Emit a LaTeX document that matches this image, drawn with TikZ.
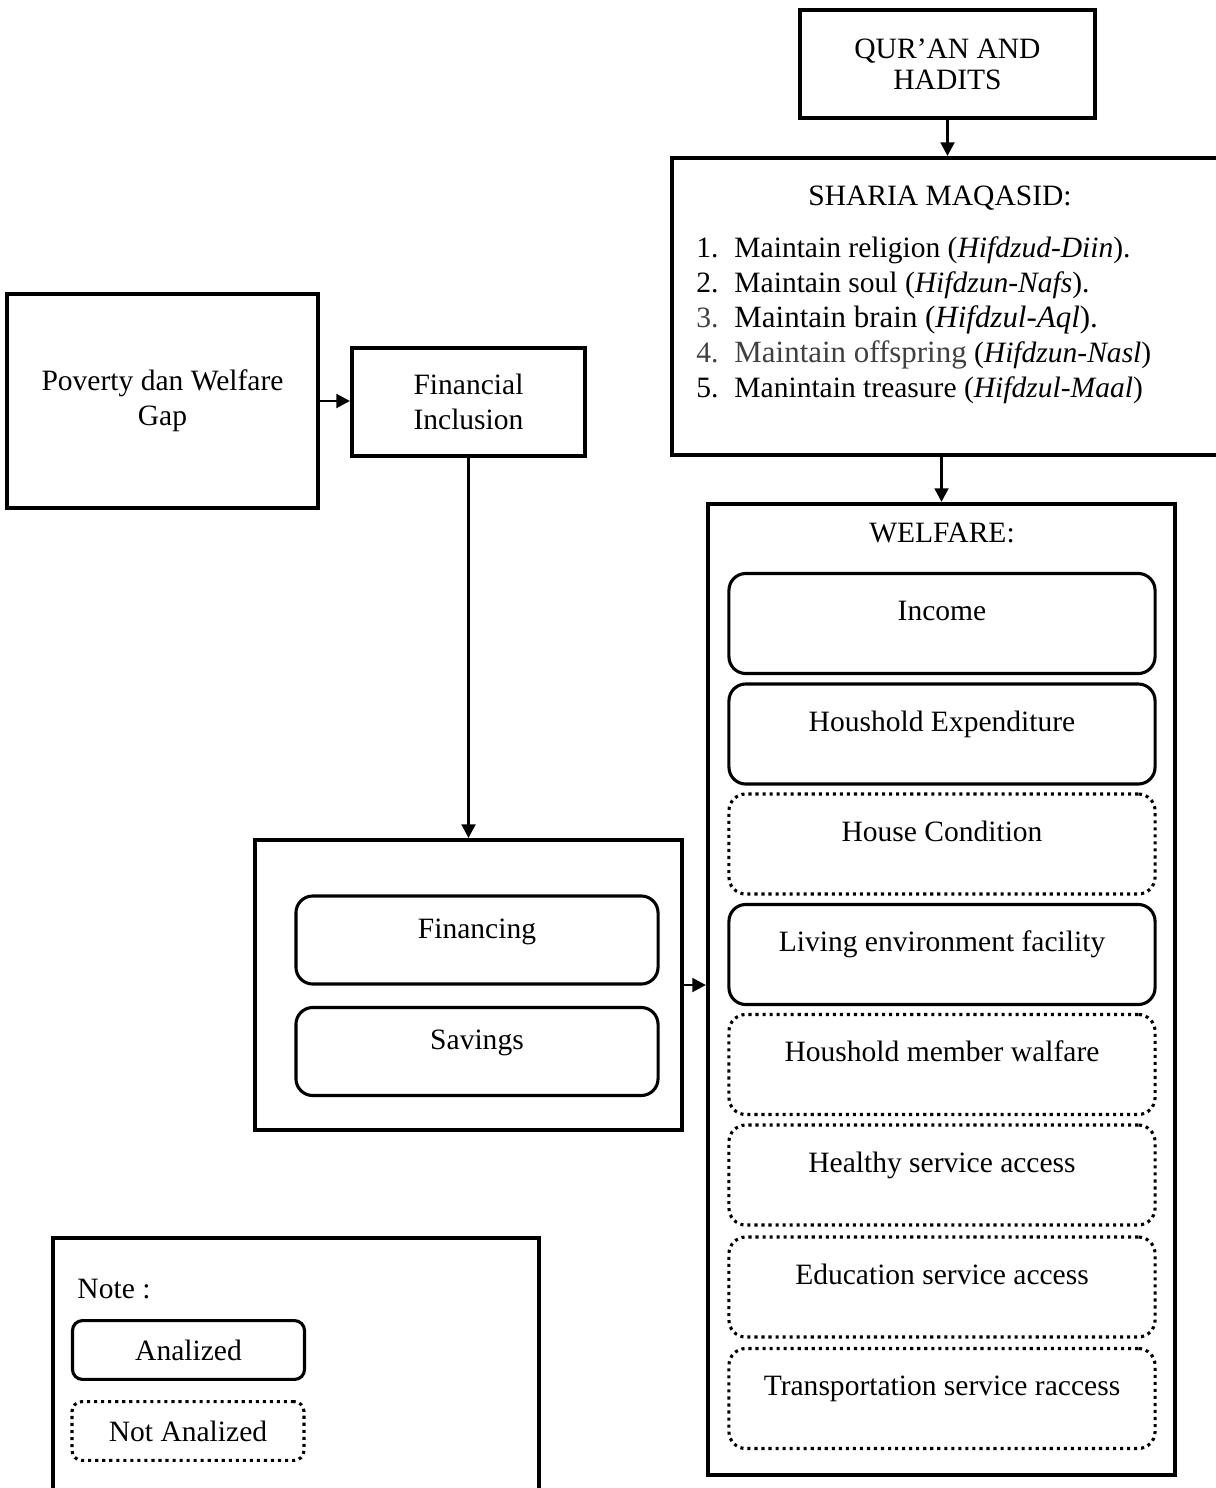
\documentclass[tikz,border=0pt]{standalone}
\usepackage{fontspec}
\setmainfont{Liberation Serif}
\usetikzlibrary{positioning, arrows.meta, calc}

\begin{document}
\begin{tikzpicture}[
    x=0.025cm, y=-0.025cm,
    line width=2.1pt,
    font=\fontsize{21}{25}\selectfont,
    >={Triangle[length=3.4mm, width=3.4mm]},
    block/.style={draw, rectangle, line width=2.8pt, align=center, inner sep=0pt},
    item/.style={draw, rectangle, rounded corners=0.42cm, line width=2.2pt, inner sep=0pt, minimum width=10.65cm, text height=1.175cm, text depth=1.325cm},
    itemdot/.style={item, dash pattern=on 2.2pt off 2.8pt},
    source/.style={item, minimum width=9.05cm, text height=1.05cm, text depth=1.15cm},
    keybox/.style={draw, rectangle, rounded corners=0.25cm, line width=2.2pt, minimum width=5.8cm, minimum height=1.47cm}
]

    \useasboundingbox (0,0) rectangle (1216,1488);
    \clip (0,0) rectangle (1216,1488);

    % ================= SOURCES =================
    \node[block, minimum width=7.375cm, minimum height=2.7cm, font=\fontsize{21}{22}\selectfont] (quran) at (947.5,64) {QUR’AN AND\\HADITS};

    \node[block, minimum width=14.2cm, minimum height=7.425cm] (sharia) at (956,306.5) {};
    \node (shariatitle) at (940,198) {SHARIA MAQASID:};
    \node[anchor=base west, inner sep=0pt] (maqlist) at (695,257) {%
        \begin{tabular}[t]{@{}p{27pt}@{}l@{}}
        1. & Maintain religion (\textit{Hifdzud-Diin}).\\
        2. & Maintain soul (\textit{Hifdzun-Nafs}).\\
        \textcolor{black!75}{3.} & {\fontsize{22}{25}\selectfont Maintain brain (\textit{Hifdzul-Aql}).}\\
        \textcolor{black!75}{4.} & {\fontsize{22}{25}\selectfont\textcolor{black!75}{Maintain offspring}} (\textit{Hifdzun-Nasl})\\
        5. & Manintain treasure (\textit{Hifdzul-Maal})
        \end{tabular}};

    % ================= LEFT BRANCH =================
    \node[block, minimum width=7.775cm, minimum height=5.35cm] (poverty) at (162.5,401) {Poverty dan Welfare\\Gap};
    \node[block, minimum width=5.825cm, minimum height=2.7cm] (fininc) at (468.5,402) {Financial\\Inclusion};

    \node[block, minimum width=10.675cm, minimum height=7.25cm] (fin) at (468.5,985) {};
    \node[source] (financing) at (477,940) {Financing};
    \node[source] (savings) at (477,1051.5) {Savings};

    % ================= WELFARE =================
    \node[block, minimum width=11.675cm, minimum height=24.275cm] (welfare) at (941.5,989.5) {};
    \node (welftitle) at (942,533) {WELFARE:};

    \node[item] (income) at (942,623.5) {Income};
    \node[item] (expend) at (942,734) {Houshold Expenditure};
    \node[itemdot] (house) at (942,844) {House Condition};
    \node[item] (living) at (942,954.5) {Living environment facility};
    \node[itemdot] (member) at (942,1064.5) {Houshold member walfare};
    \node[itemdot] (health) at (942,1175) {Healthy service access};
    \node[itemdot] (educ) at (942,1287) {Education service access};
    \node[itemdot] (transp) at (942,1398.5) {Transportation service raccess};

    % ================= NOTE =================
    \node[block, minimum width=12.15cm, minimum height=6.55cm] (note) at (296,1369) {};
    \node[anchor=base west, inner sep=0pt] (notetitle) at (76,1298) {Note :};
    \node[keybox] (keyan) at (188.5,1350) {Analized};
    \node[keybox, dash pattern=on 2.2pt off 2.8pt] (keynot) at (188,1431) {Not Analized};

    % ================= ARROWS =================
    \draw[->] (quran.south) -- (quran.south |- sharia.north);
    \draw[->] (sharia.south -| welfare.north) -- (welfare.north);
    \draw[->] (poverty.east) -- (poverty.east -| fininc.west);
    \draw[->] (fininc.south) -- (fininc.south |- fin.north);
    \draw[->] (fin.east) -- (fin.east -| welfare.west);

\end{tikzpicture}
\end{document}
